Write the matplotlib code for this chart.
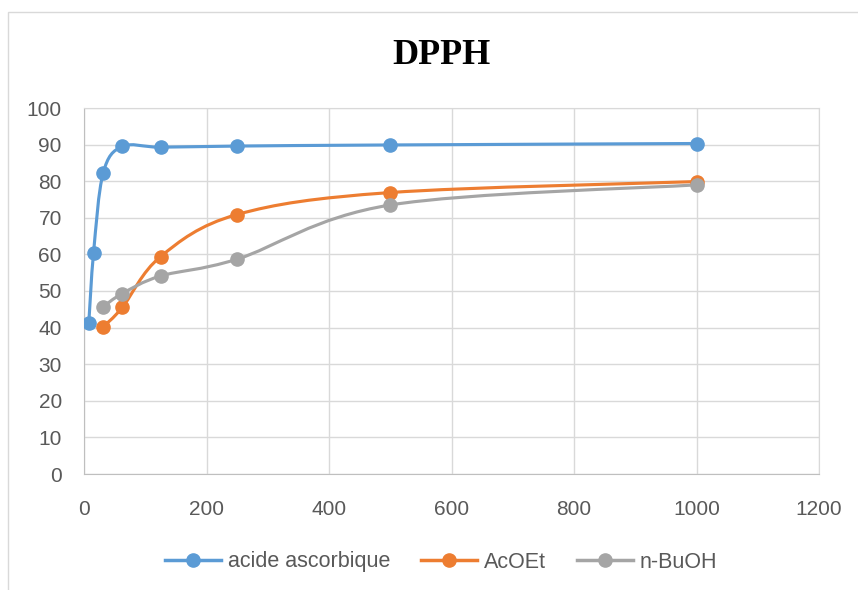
import numpy as np
import matplotlib.pyplot as plt
from matplotlib.path import Path
from matplotlib.patches import PathPatch, Rectangle
from matplotlib.lines import Line2D

# concentrations (x) and % inhibition (y)
conc_aa = [7.8125, 15.625, 31.25, 62.5, 125, 250, 500, 1000]
acide_ascorbique = [41.2, 60.5, 82.2, 89.5, 89.3, 89.6, 89.9, 90.3]

conc_ext = [31.25, 62.5, 125, 250, 500, 1000]
acoet = [40.2, 45.5, 59.4, 70.9, 76.9, 79.9]
nbuoh = [45.7, 49.3, 54.1, 58.7, 73.5, 79.0]

series = [
    ("acide ascorbique", conc_aa, acide_ascorbique, "#5B9BD5"),
    ("AcOEt", conc_ext, acoet, "#ED7D31"),
    ("n-BuOH", conc_ext, nbuoh, "#A5A5A5"),
]

xticks = [0, 200, 400, 600, 800, 1000, 1200]
yticks = [0, 10, 20, 30, 40, 50, 60, 70, 80, 90, 100]

TXT = "#595959"
GRID = "#D9D9D9"
FONT = "Liberation Sans"


def smooth_path(x, y):
    """Excel-like smoothed line: Catmull-Rom segments as cubic Beziers."""
    pts = np.column_stack([x, y]).astype(float)
    n = len(pts)
    verts = [pts[0]]
    codes = [Path.MOVETO]
    for i in range(n - 1):
        p0 = pts[i - 1] if i > 0 else pts[i]
        p1 = pts[i]
        p2 = pts[i + 1]
        p3 = pts[i + 2] if i + 2 < n else pts[i + 1]
        verts += [p1 + (p2 - p0) / 6, p2 - (p3 - p1) / 6, p2]
        codes += [Path.CURVE4] * 3
    return Path(verts, codes)


fig = plt.figure(figsize=(8.58, 5.9), dpi=100)
ax = fig.add_axes([84 / 858, 1 - 474 / 590, (819 - 84) / 858, (474 - 108) / 590])

# light border around the chart area
fig.patches.append(Rectangle((8 / 858, -0.1), 1.2, 1 - 12 / 590 + 0.1,
                             transform=fig.transFigure, fill=False,
                             edgecolor=GRID, linewidth=1.0))

handles = []
for name, xs, ys, col in series:
    ax.add_patch(PathPatch(smooth_path(xs, ys), facecolor="none",
                           edgecolor=col, linewidth=2.25, capstyle="round",
                           joinstyle="round", zorder=3))
    ax.plot(xs, ys, linestyle="none", marker="o", markersize=9.5,
            color=col, zorder=4)
    handles.append(Line2D([], [], color=col, linewidth=2.5, marker="o",
                          markersize=9.5, label=name))

ax.set_xlim(0, 1200)
ax.set_ylim(0, 100)
ax.set_xticks(xticks)
ax.set_yticks(yticks)
ax.grid(True, color=GRID, linewidth=1.0)
ax.set_axisbelow(True)
for side in ["top", "right"]:
    ax.spines[side].set_color(GRID)
for side in ["left", "bottom"]:
    ax.spines[side].set_color("#BFBFBF")
ax.tick_params(length=0, colors=TXT, labelsize=15)
ax.tick_params(axis="x", pad=19)
ax.tick_params(axis="y", pad=16)
for lab in ax.get_xticklabels() + ax.get_yticklabels():
    lab.set_fontfamily(FONT)

fig.text(441 / 858, 1 - 55 / 590, "DPPH", ha="center", va="center",
         fontsize=26, fontweight="bold", family="Liberation Serif")

fig.legend(handles=handles, loc="center", bbox_to_anchor=(441 / 858, 1 - 562 / 590),
           ncol=3, frameon=False, handlelength=2.6, handletextpad=0.3,
           columnspacing=1.45, prop={"family": FONT, "size": 15.5},
           labelcolor=TXT)

fig.savefig("out.png", dpi=100)
